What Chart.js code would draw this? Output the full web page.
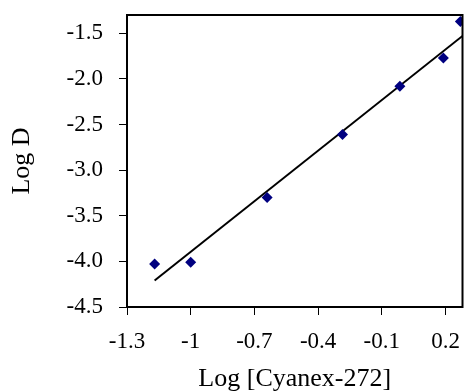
<!DOCTYPE html>
<html>
<head>
<meta charset="utf-8">
<script src="https://cdn.jsdelivr.net/npm/chart.js@4.4.1/dist/chart.umd.min.js"></script>
<style>
  body { margin: 0; background: #fff; }
  canvas { display: block; }
</style>
</head>
<body>
<canvas id="logChart" width="468" height="392"></canvas>
<script>
// measured points: log [Cyanex-272] vs log D
const logCyanex = [-1.17, -1.0, -0.64, -0.285, -0.015, 0.19, 0.27];
const logD = [-4.03, -4.01, -3.30, -2.61, -2.08, -1.77, -1.37];

// linear fit, drawn as a two point line
const fitX = [-1.17, 0.28];
const fitY = [-4.21, -1.53];

const xTicks = [-1.3, -1.0, -0.7, -0.4, -0.1, 0.2];
const xTickLabels = ['-1.3', '-1', '-0.7', '-0.4', '-0.1', '0.2'];
const yTicks = [-4.5, -4.0, -3.5, -3.0, -2.5, -2.0, -1.5];
const yTickLabels = ['-4.5', '-4.0', '-3.5', '-3.0', '-2.5', '-2.0', '-1.5'];

const fontFamily = '"Liberation Serif", "Times New Roman", serif';

const boxPlugin = {
    id: 'box',
    afterDatasetsDraw(chart) {
        const a = chart.chartArea;
        const ctx = chart.ctx;
        ctx.save();
        ctx.strokeStyle = '#000';
        ctx.lineWidth = 2;
        ctx.strokeRect(a.left, a.top, a.right - a.left, a.bottom - a.top);
        ctx.restore();
    }
};

const ctx = document.getElementById('logChart').getContext('2d');
new Chart(ctx, {
    type: 'scatter',
    data: {
        datasets: [{
            label: 'Log D',
            data: logCyanex.map((x, i) => ({ x: x, y: logD[i] })),
            pointStyle: 'rectRot',
            pointRadius: 5.5,
            backgroundColor: '#000080',
            borderColor: '#000080',
            borderWidth: 0,
            order: 1
        }, {
            label: 'fit',
            type: 'line',
            data: fitX.map((x, i) => ({ x: x, y: fitY[i] })),
            borderColor: '#000',
            borderWidth: 2,
            pointRadius: 0,
            fill: false,
            order: 2
        }]
    },
    options: {
        responsive: false,
        animation: false,
        layout: { padding: { top: 15, right: 5, left: 0, bottom: 0 } },
        plugins: {
            legend: { display: false },
            tooltip: { enabled: false }
        },
        scales: {
            x: {
                type: 'linear',
                min: -1.3,
                max: 0.28,
                afterBuildTicks: s => { s.ticks = xTicks.map(v => ({ value: v })); },
                afterFit: s => { s.height = 85; s.paddingLeft = 0; s.paddingRight = 0; },
                grid: { drawOnChartArea: false, tickLength: 8, color: '#000', lineWidth: 1 },
                border: { display: false },
                ticks: {
                    color: '#000',
                    padding: 13,
                    maxRotation: 0,
                    font: { family: fontFamily, size: 23 },
                    callback: (v, i) => xTickLabels[i]
                },
                title: {
                    display: true,
                    text: 'Log [Cyanex-272]',
                    color: '#000',
                    font: { family: fontFamily, size: 26, lineHeight: 1 },
                    padding: { top: 0, bottom: 0 }
                }
            },
            y: {
                type: 'linear',
                min: -4.5,
                max: -1.3,
                afterBuildTicks: s => { s.ticks = yTicks.map(v => ({ value: v })); },
                afterFit: s => { s.width = 127; s.paddingTop = 0; s.paddingBottom = 0; },
                grid: { drawOnChartArea: false, tickLength: 8, color: '#000', lineWidth: 1 },
                border: { display: false },
                ticks: {
                    color: '#000',
                    padding: 16,
                    font: { family: fontFamily, size: 23 },
                    callback: (v, i) => yTickLabels[i]
                },
                title: {
                    display: true,
                    text: 'Log D',
                    color: '#000',
                    font: { family: fontFamily, size: 26, lineHeight: 1 },
                    padding: { top: 9, bottom: 0 }
                }
            }
        }
    },
    plugins: [boxPlugin]
});
</script>
</body>
</html>
